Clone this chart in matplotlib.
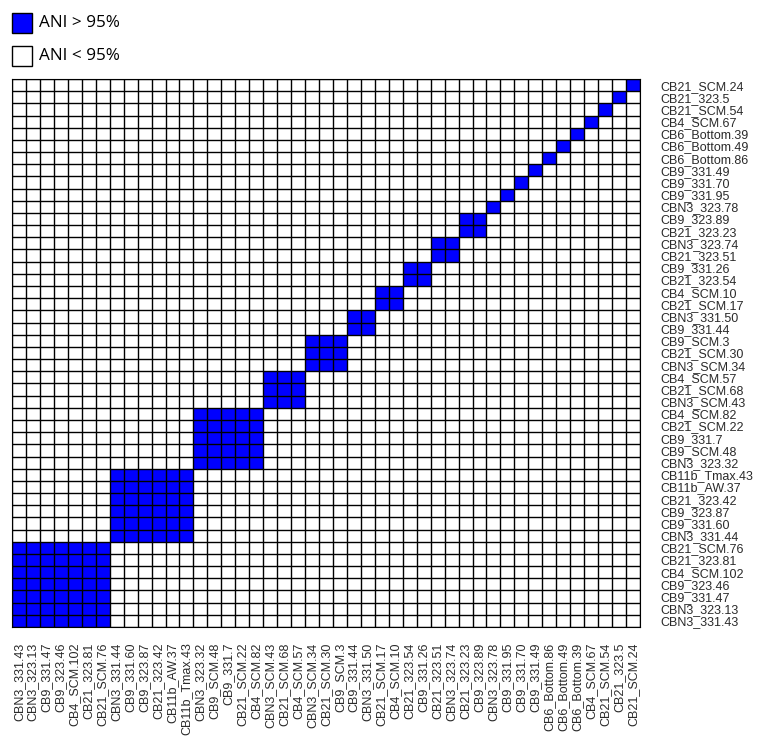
import numpy as np
import matplotlib
matplotlib.use("Agg")
import matplotlib.pyplot as plt
from matplotlib import font_manager as fm
from matplotlib.colors import ListedColormap
from matplotlib.patches import Rectangle

# Genomes in dendrogram order (bottom/left first)
genomes = [
    "CBN3_331.43", "CBN3_323.13", "CB9_331.47", "CB9_323.46", "CB4_SCM.102",
    "CB21_323.81", "CB21_SCM.76", "CBN3_331.44", "CB9_331.60", "CB9_323.87",
    "CB21_323.42", "CB11b_AW.37", "CB11b_Tmax.43", "CBN3_323.32", "CB9_SCM.48",
    "CB9_331.7", "CB21_SCM.22", "CB4_SCM.82", "CBN3_SCM.43", "CB21_SCM.68",
    "CB4_SCM.57", "CBN3_SCM.34", "CB21_SCM.30", "CB9_SCM.3", "CB9_331.44",
    "CBN3_331.50", "CB21_SCM.17", "CB4_SCM.10", "CB21_323.54", "CB9_331.26",
    "CB21_323.51", "CBN3_323.74", "CB21_323.23", "CB9_323.89", "CBN3_323.78",
    "CB9_331.95", "CB9_331.70", "CB9_331.49", "CB6_Bottom.86", "CB6_Bottom.49",
    "CB6_Bottom.39", "CB4_SCM.67", "CB21_SCM.54", "CB21_323.5", "CB21_SCM.24",
]

# Species cluster (ANI > 95%) membership for each genome
cluster = [
    1, 1, 1, 1, 1, 1, 1,
    2, 2, 2, 2, 2, 2,
    3, 3, 3, 3, 3,
    4, 4, 4,
    5, 5, 5,
    6, 6,
    7, 7,
    8, 8,
    9, 9,
    10, 10,
    11, 12, 13, 14, 15, 16, 17, 18, 19, 20, 21,
]

legend_labels = ["ANI > 95%", "ANI < 95%"]
blue = "#0000ff"


def regular_font(family, size):
    """Pick the regular-width, regular-weight face of a family."""
    for f in fm.fontManager.ttflist:
        if (f.name == family and f.style == "normal" and f.weight in (400, "normal")
                and "narrow" not in f.fname.lower()
                and "condensed" not in f.fname.lower()):
            return fm.FontProperties(fname=f.fname, size=size)
    return fm.FontProperties(family=family, size=size)


tick_font = regular_font("Liberation Sans", 9)
legend_font = regular_font("Open Sans", 12.3)

cl = np.array(cluster)
same = (cl[:, None] == cl[None, :]).astype(int)
n = len(genomes)

W, H = 758, 738
fig = plt.figure(figsize=(W / 100, H / 100), dpi=100)
ax = fig.add_axes([12 / W, 1 - 627 / H, (640 - 12) / W, (627 - 79) / H])

ax.pcolormesh(np.arange(n + 1), np.arange(n + 1), same,
              cmap=ListedColormap(["white", blue]), vmin=0, vmax=1,
              edgecolors="none", zorder=1)
# cell borders
edges = np.arange(n + 1)
ax.vlines(edges, 0, n, colors="black", linewidth=1.0, zorder=3)
ax.hlines(edges, 0, n, colors="black", linewidth=1.0, zorder=3)
ax.set_xlim(0, n)
ax.set_ylim(0, n)

ticks = np.arange(n) + 0.5
ax.set_xticks(ticks)
ax.set_xticklabels(genomes, rotation=90, fontproperties=tick_font, color="#2a2a2a")
ax.set_yticks(ticks)
ax.set_yticklabels(genomes, fontproperties=tick_font, color="#2a2a2a")
ax.yaxis.tick_right()
ax.tick_params(axis="y", length=0, pad=15)
ax.tick_params(axis="x", length=0, pad=11)
for s in ax.spines.values():
    s.set_linewidth(0.8)

# Legend drawn in figure pixel space
colors = [blue, "white"]
for i, (lab, c) in enumerate(zip(legend_labels, colors)):
    top = 13 + 33 * i
    fig.patches.append(Rectangle((12 / W, 1 - (top + 20) / H), 20 / W, 20 / H,
                                 transform=fig.transFigure, facecolor=c,
                                 edgecolor="black", linewidth=1.0))
    fig.text(39 / W, 1 - (top + 10) / H, lab, fontproperties=legend_font,
             va="center", ha="left", color="black")

fig.savefig("out.png", dpi=100)
